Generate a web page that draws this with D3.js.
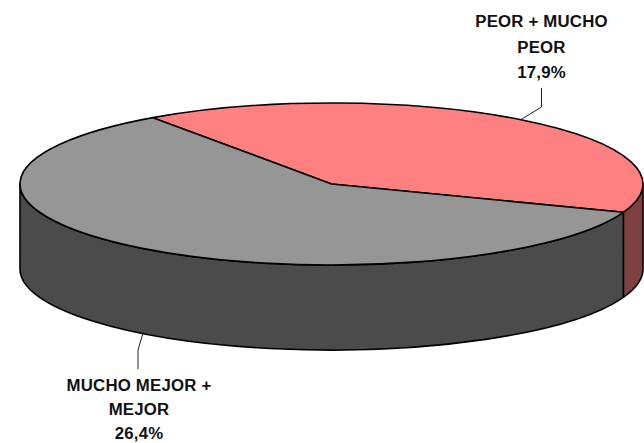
<!DOCTYPE html>
<html>
<head>
<meta charset="utf-8">
<script src="https://cdn.jsdelivr.net/npm/d3@7"></script>
<style>
  html, body { margin:0; padding:0; background:#fff; }
  svg { display:block; }
  text { font-family:"Liberation Sans", Arial, sans-serif; font-weight:bold; font-size:16.8px; letter-spacing:.2px; fill:#111; text-anchor:middle; }
</style>
</head>
<body>
<svg id="chart" width="644" height="443"></svg>
<script>
var categories = ["PEOR + MUCHO PEOR", "MUCHO MEJOR + MEJOR"];
var values = [17.9, 26.4];
var valueLabels = ["17,9%", "26,4%"];
var labelLines = [["PEOR + MUCHO", "PEOR"], ["MUCHO MEJOR +", "MEJOR"]];
var topColors = ["#ff8080", "#969696"];
var sideColors = ["#804040", "#4b4b4b"];

var cx = 331.5, cy = 184, rx = 311.5, ry = 81, depth = 85;
var svg = d3.select("#chart");

// first slice starts a bit left of 12 o'clock, going clockwise
var startAngle = -35 * Math.PI / 180;
var pie = d3.pie().sort(null).startAngle(startAngle).endAngle(startAngle + 2 * Math.PI);
var slices = pie(values);

function px(a) { return cx + rx * Math.sin(a); }
function py(a, dy) { return cy - ry * Math.cos(a) + (dy || 0); }

function topPath(d) {
  var large = d.endAngle - d.startAngle > Math.PI ? 1 : 0;
  return "M" + cx + "," + cy + "L" + px(d.startAngle) + "," + py(d.startAngle) +
    "A" + rx + "," + ry + " 0 " + large + " 1 " + px(d.endAngle) + "," + py(d.endAngle) + "Z";
}
// wall only exists on the front half (90deg to 270deg clockwise from the top)
function sidePath(d) {
  var a0 = Math.max(d.startAngle, Math.PI / 2), a1 = Math.min(d.endAngle, 3 * Math.PI / 2);
  return "M" + px(a0) + "," + py(a0) +
    "A" + rx + "," + ry + " 0 0 1 " + px(a1) + "," + py(a1) +
    "L" + px(a1) + "," + py(a1, depth) +
    "A" + rx + "," + ry + " 0 0 0 " + px(a0) + "," + py(a0, depth) + "Z";
}

svg.selectAll("path.side").data(slices).enter().append("path")
  .attr("class", "side")
  .attr("d", sidePath)
  .attr("fill", function(d, i) { return sideColors[i]; })
  .attr("stroke", "#000").attr("stroke-width", 1.6).attr("stroke-linejoin", "round");

svg.selectAll("path.top").data(slices).enter().append("path")
  .attr("class", "top")
  .attr("d", topPath)
  .attr("fill", function(d, i) { return topColors[i]; })
  .attr("stroke", "#000").attr("stroke-width", 1.6).attr("stroke-linejoin", "round");

// leader lines
var leaders = [
  [[521, 119.5], [541.5, 107], [541.5, 88]],
  [[143, 333], [138, 350], [138, 369]]
];
svg.selectAll("path.leader").data(leaders).enter().append("path")
  .attr("class", "leader")
  .attr("d", d3.line())
  .attr("fill", "none").attr("stroke", "#222").attr("stroke-width", 1);

// labels
var labelPos = [[541.5, 27], [139, 391]];
var rowSteps = [25.5, 24];
labelLines.forEach(function(lines, i) {
  var rows = lines.concat([valueLabels[i]]);
  svg.selectAll("text.l" + i).data(rows).enter().append("text")
    .attr("class", "l" + i)
    .attr("x", labelPos[i][0])
    .attr("y", function(d, j) { return labelPos[i][1] + j * rowSteps[i]; })
    .text(function(d) { return d; });
});
</script>
</body>
</html>
